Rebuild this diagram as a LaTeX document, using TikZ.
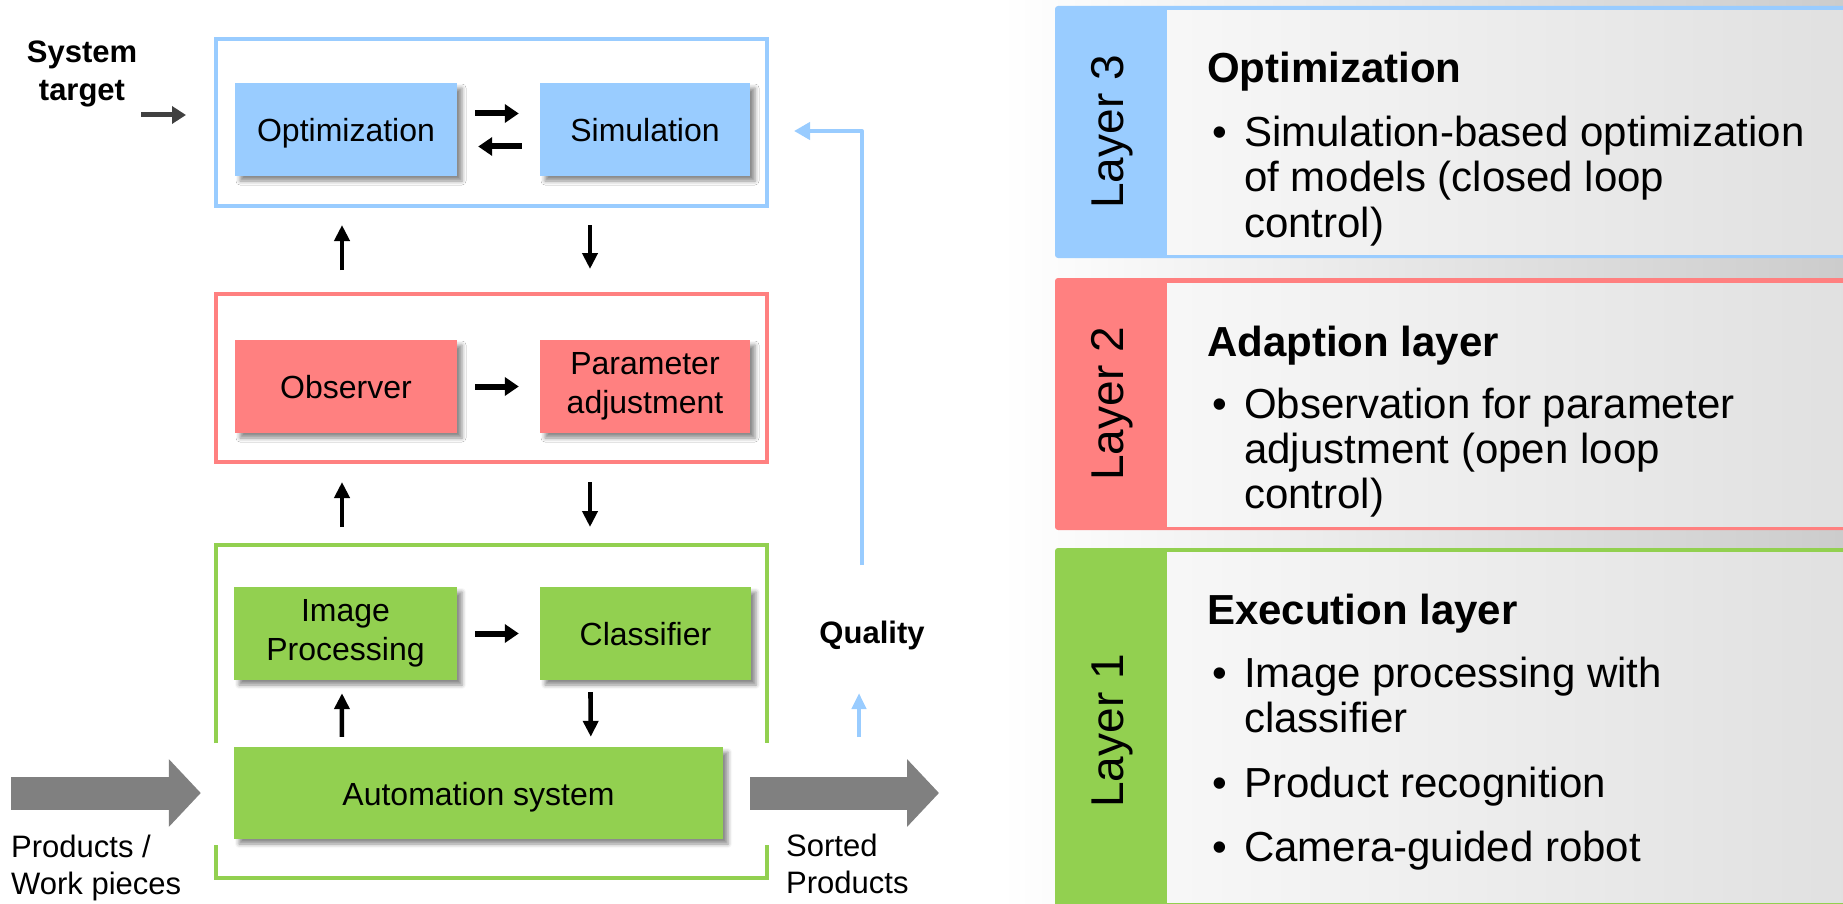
\documentclass[tikz,border=0pt]{standalone}
\usepackage{fontspec}
\setmainfont{Liberation Sans}
\usetikzlibrary{arrows.meta,calc,shadows.blur}

\definecolor{lblue}{RGB}{153,204,255}
\definecolor{lred}{RGB}{255,128,128}
\definecolor{lgreen}{RGB}{146,208,80}
\definecolor{flowgray}{RGB}{128,128,128}
\definecolor{darkarr}{RGB}{64,64,64}

% one-line box label, centred on its capital height
\newcommand{\capcentre}[1]{\raisebox{-12pt}[0pt][0pt]{#1}}

\tikzset{
  x=1pt, y=-1pt,
  boxtxt/.style={font=\fontsize{32}{39}\selectfont},
  procbox/.style={boxtxt, align=center, inner sep=0pt, minimum height=93pt,
    blur shadow={shadow xshift=5pt, shadow yshift=-5pt, shadow blur radius=4pt, shadow opacity=45}},
  layerframe/.style={draw, line width=3.5pt, inner sep=0pt, outer sep=0pt, fill=white},
  harr/.style={line width=6pt, -{Triangle[length=14pt,width=18pt]}},
  varr/.style={line width=4.6pt, -{Triangle[length=16pt,width=15pt]}},
  bigarr/.style={flowgray, line width=33pt, -{Triangle[length=32pt,width=66pt]}},
  lbl/.style={font=\fontsize{31}{37}\selectfont, inner sep=0pt},
  layertag/.style={font=\fontsize{46}{50}\selectfont, rotate=90, inner sep=0pt},
  ttl/.style={font=\fontsize{42}{45}\selectfont\bfseries, inner sep=0pt, anchor=base west},
  itm/.style={font=\fontsize{42}{45}\selectfont, inner sep=0pt, anchor=base west},
}

\begin{document}
\begin{tikzpicture}
\useasboundingbox (0,0) rectangle (1843,904);

% ---------- right-hand legend: three layers ----------
\shade[left color=white, right color=black!20] (1000,0) rectangle (1843,904);

\fill[lblue, rounded corners=3pt] (1055,6) rectangle (1860,258);
\shade[left color=black!3, right color=black!12] (1167,11) rectangle (1843,254);
\fill[lred, rounded corners=3pt] (1055,278) rectangle (1860,530);
\shade[left color=black!3, right color=black!12] (1167,283) rectangle (1843,526);
\fill[lgreen, rounded corners=3pt] (1055,548) rectangle (1860,920);
\shade[left color=black!3, right color=black!12] (1167,552) rectangle (1843,902);

\node[layertag] (tag3) at (1112,132) {Layer 3};
\node[layertag] (tag2) at (1112,404) {Layer 2};
\node[layertag] (tag1) at (1112,731) {Layer 1};

\node[ttl] (t3) at (1207,83) {Optimization};
\node[itm] (d3a) at (1212,147) {•};
\node[itm] (i3a) at (1244,147) {\vtop{\hbox{Simulation-based optimization}\hbox{of models (closed loop}\hbox{control)}}};

\node[ttl] (t2) at (1207,356) {Adaption layer};
\node[itm] (d2a) at (1212,418) {•};
\node[itm] (i2a) at (1244,418) {\vtop{\hbox{Observation for parameter}\hbox{adjustment (open loop}\hbox{control)}}};

\node[ttl] (t1) at (1207,624) {Execution layer};
\node[itm] (d1a) at (1212,687) {•};
\node[itm] (i1a) at (1244,687) {\vtop{\hbox{Image processing with}\hbox{classifier}}};
\node[itm] (d1b) at (1212,797) {•};
\node[itm] (i1b) at (1244,797) {Product recognition};
\node[itm] (d1c) at (1212,861) {•};
\node[itm] (i1c) at (1244,861) {Camera-guided robot};

% ---------- left-hand block diagram ----------
% layer frames
\node[layerframe, draw=lblue, minimum width=551pt, minimum height=167pt] (L3) at (491.5,122.5) {};
\node[layerframe, draw=lred, minimum width=551pt, minimum height=168pt] (L2) at (491.5,378) {};
\coordinate (L1nw) at (216,545);
\coordinate (L1se) at (767,878);
\draw[lgreen, line width=3.5pt] (216,743) -- (L1nw) -- (767,545) -- (767,743);
\draw[lgreen, line width=3.5pt] (216,845) -- (216,878) -- (L1se) -- (767,845);

% process boxes
\node[procbox, fill=lblue, minimum width=222pt] (opt) at (346,129.5) {\capcentre{Optimization}};
\node[procbox, fill=lblue, minimum width=210pt] (sim) at (645,129.5) {\capcentre{Simulation}};
\node[procbox, fill=lred, minimum width=222pt] (obs) at (346,386.5) {\capcentre{Observer}};
\node[procbox, fill=lred, minimum width=210pt] (par) at (645,386.5) {Parameter\\adjustment};
\node[procbox, fill=lgreen, minimum width=223pt] (img) at (345.5,633.5) {Image\\Processing};
\node[procbox, fill=lgreen, minimum width=211pt] (cls) at (645.5,633.5) {\capcentre{Classifier}};
\node[procbox, fill=lgreen, minimum width=489pt, minimum height=92pt] (aut) at (478.5,793) {\capcentre{Automation system}};

% arrows inside the layers
\draw[harr, shorten <=18pt, shorten >=21pt] ([yshift=16pt]opt.east) -- ([yshift=16pt]sim.west);
\draw[harr, shorten <=18pt, shorten >=21pt] ([yshift=-17pt]sim.west) -- ([yshift=-17pt]opt.east);
\draw[harr, shorten <=18pt, shorten >=21pt] (obs) -- (par);
\draw[harr, shorten <=18pt, shorten >=21pt] (img) -- (cls);

% arrows between the layers
\draw[varr] ($(L2.north west)+(126,-24)$) -- ($(L3.south west)+(126,19)$);
\draw[varr] ($(L3.south west)+(374,19)$) -- ($(L2.north west)+(374,-25)$);
\draw[varr] ($(L1nw)+(126,-18)$) -- ($(L2.south west)+(126,20)$);
\draw[varr] ($(L2.south west)+(374,20)$) -- ($(L1nw)+(374,-18)$);
\draw[varr] ($(aut.north west)+(108,-10)$) -- ($(img.south)+(-3.5,13)$);
\draw[varr] ($(cls.south)+(-55,12)$) -- ($(aut.north west)+(357,-10)$);

% system target input
\node[lbl, font=\fontsize{31}{38}\selectfont\bfseries, align=center] (target) at (82,74) {System\\target};
\coordinate (stin) at (141,115);
\draw[darkarr, line width=5pt, -{Triangle[length=14pt,width=17pt]}, shorten >=30pt] (stin) -- (stin -| L3.west);

% material flow
\coordinate (inbeg) at (11,793);
\coordinate (outend) at (939,793);
\draw[bigarr, shorten >=33pt] (inbeg) -- (aut.west);
\draw[bigarr, shorten <=27pt] (aut.east) -- (outend);
\node[lbl, anchor=base west] (inlbl) at (11,857) {\vtop{\hbox{Products /}\hbox{Work pieces}}};
\node[lbl, anchor=base west] (outlbl) at (786,856) {\vtop{\hbox{Sorted}\hbox{Products}}};

% quality feedback
\node[lbl, font=\fontsize{31}{36}\selectfont\bfseries, anchor=base] (quality) at (872,643) {Quality};
\coordinate (qa) at (859,737);
\draw[lblue, line width=4pt, -{Triangle[length=16pt,width=14pt]}] (qa) -- ++(0,-44);
\coordinate (fbstart) at (862,565);
\coordinate (fbturn) at (862,131);
\draw[lblue, line width=4pt, line join=round, -{Triangle[length=16pt,width=17pt]}, shorten >=27pt]
  (fbstart) -- (fbturn) -- (fbturn -| L3.east);
\end{tikzpicture}
\end{document}
